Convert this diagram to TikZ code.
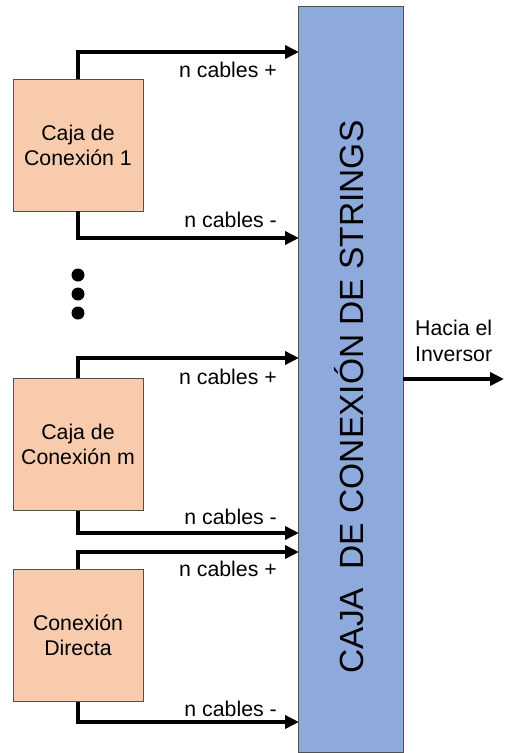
\documentclass[tikz,border=0pt]{standalone}
\usepackage{fontspec}
\setmainfont{Liberation Sans}
\usetikzlibrary{arrows.meta}
\definecolor{peach}{HTML}{F8CBAD}
\definecolor{panel}{HTML}{8EA9DB}
\definecolor{edge}{HTML}{505050}
\begin{document}
\begin{tikzpicture}[x=1pt,y=-1pt,
  srcbox/.style={draw=edge,line width=0.8pt,fill=peach,minimum width=130pt,minimum height=132pt,
    align=center,inner sep=0pt,font=\fontsize{21.3}{25}\selectfont},
  wire/.style={line width=4pt,-{Triangle[length=14pt,width=13pt]}},
  lbl/.style={anchor=east,inner sep=0pt,font=\fontsize{21.3}{24}\selectfont},
  dot/.style={circle,fill=black,inner sep=0pt,minimum size=13pt}]
\useasboundingbox (0,0) rectangle (504,753);

% combiner panel
\node[draw=edge,line width=0.8pt,fill=panel,minimum width=105pt,minimum height=746pt,inner sep=0pt]
  (panel) at (350.5,379) {};
\node[rotate=90,inner sep=0pt,font=\fontsize{33.5}{36}\selectfont] (title) at (349,397)
  {CAJA \ DE CONEXIÓN DE STRINGS};

% source boxes
\node[srcbox] (b1) at (78,145) {Caja de\\Conexión 1};
\node[srcbox] (bm) at (78,444.5) {Caja de\\Conexión m};
\node[srcbox] (bd) at (78,635.5) {Conexión\\Directa};

% ellipsis dots
\node[dot] (d1) at (78,275) {};
\node[dot] (d2) at (78,294) {};
\node[dot] (d3) at (78,313) {};

% entry points on the panel
\coordinate (p1) at (299,52);
\coordinate (n1) at (299,238);
\coordinate (pm) at (299,358);
\coordinate (nm) at (299,533);
\coordinate (pd) at (299,552);
\coordinate (nd) at (299,722);
\coordinate (out) at (504,379);

% cables
\draw[wire] (b1.north) |- (p1);
\draw[wire] (b1.south) |- (n1);
\draw[wire] (bm.north) |- (pm);
\draw[wire] (bm.south) |- (nm);
\draw[wire] (bd.north) |- (pd);
\draw[wire] (bd.south) |- (nd);
\draw[wire] (panel.east |- out) -- (out);

% cable labels
\node[lbl] (l1) at (277,70) {n cables +};
\node[lbl] (l2) at (277,220) {n cables -};
\node[lbl] (l3) at (277,377) {n cables +};
\node[lbl] (l4) at (277,517) {n cables -};
\node[lbl] (l5) at (277,569) {n cables +};
\node[lbl] (l6) at (277,709) {n cables -};

\node[align=left,inner sep=0pt,anchor=west,font=\fontsize{21.3}{26}\selectfont] (inv) at (415,341)
  {Hacia el\\Inversor};
\end{tikzpicture}
\end{document}
